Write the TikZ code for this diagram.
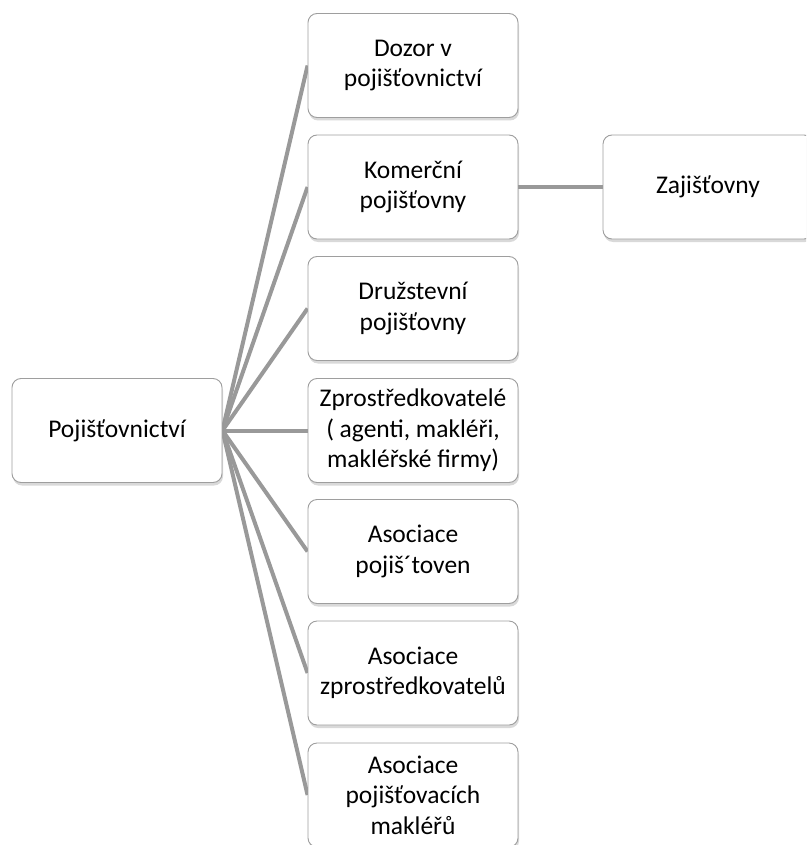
\documentclass[tikz,border=0pt]{standalone}
\usepackage{fontspec}
\setmainfont{Carlito}
\usetikzlibrary{shadows,backgrounds}
\tikzset{
  box/.style={draw=black!38, line width=0.9pt, fill=white, rounded corners=9pt,
    minimum width=210pt, minimum height=104pt, inner sep=2pt, align=center,
    font=\fontsize{25.5pt}{30.5pt}\selectfont, text=black,
    drop shadow={shadow xshift=1pt, shadow yshift=-3pt, opacity=0.25, fill=black!60}},
  link/.style={draw=black!40, line width=4pt}
}
\begin{document}
\begin{tikzpicture}[x=1pt,y=-1pt]
\useasboundingbox (0,0) rectangle (806,845);
\clip (0,0) rectangle (806,845);
\node[box] (root) at (117,430.5) {Pojišťovnictví};
\node[box] (c1) at (413,65.5) {Dozor v\\pojišťovnictví};
\node[box] (c2) at (413,187) {Komerční\\pojišťovny};
\node[box] (c3) at (413,308.5) {Družstevní\\pojišťovny};
\node[box] (c4) at (413,430.5) {Zprostředkovatelé\\( agenti, makléři,\\makléřské firmy)};
\node[box] (c5) at (413,551.5) {Asociace\\pojiš´toven};
\node[box] (c6) at (413,673) {Asociace\\zprostředkovatelů};
\node[box] (c7) at (413,795) {Asociace\\pojišťovacích\\makléřů};
\node[box] (z) at (708,187) {Zajišťovny};
\begin{scope}[on background layer]
\foreach \c in {c1,c2,c3,c4,c5,c6,c7}
  \draw[link] (root.east) -- (\c.west);
\draw[link] (c2.east) -- (z.west);
\end{scope}
\end{tikzpicture}
\end{document}
